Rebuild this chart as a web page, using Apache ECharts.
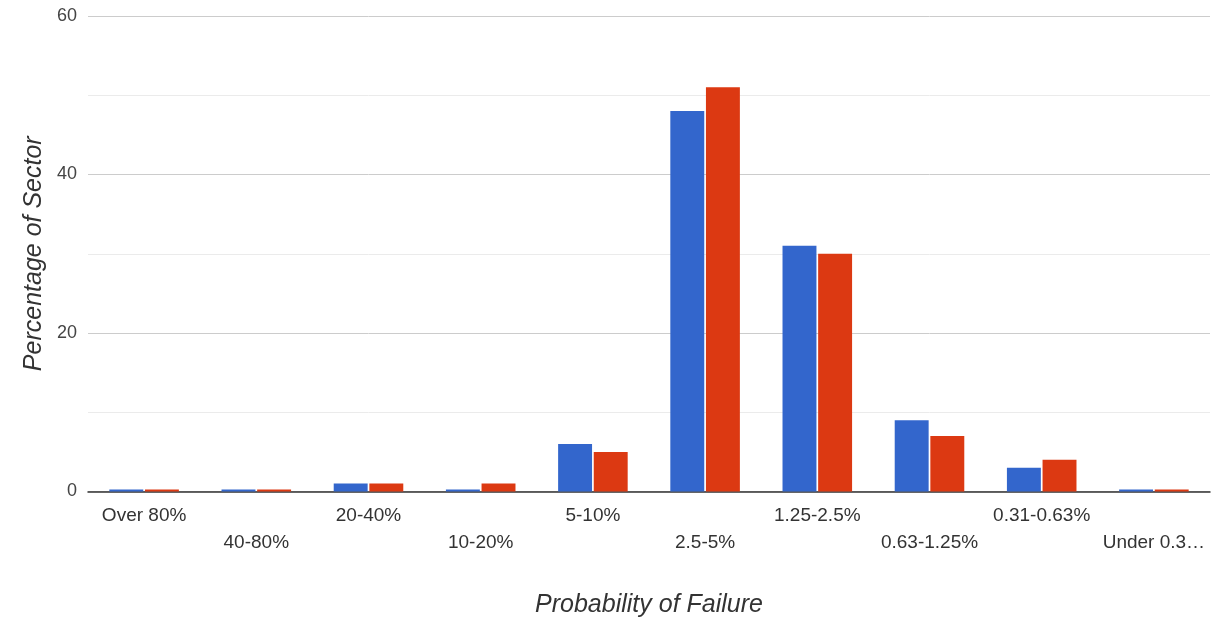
<!DOCTYPE html>
<html>
<head>
<meta charset="utf-8">
<script src="https://cdn.jsdelivr.net/npm/echarts@6/dist/echarts.min.js"></script>
<style>
html,body{margin:0;padding:0;background:#fff;}
#chart{width:1216px;height:623px;}
</style>
</head>
<body>
<div id="chart"></div>
<script>
var categories = ['Over 80%', '40-80%', '20-40%', '10-20%', '5-10%', '2.5-5%', '1.25-2.5%', '0.63-1.25%', '0.31-0.63%', 'Under 0.3\u2026'];
var seriesA = [0, 0, 1, 0, 6, 48, 31, 9, 3, 0];
var seriesB = [0, 0, 1, 1, 5, 51, 30, 7, 4, 0];
var yTicks = [0, 20, 40, 60];

var chart = echarts.init(document.getElementById('chart'), null, {renderer: 'canvas', width: 1216, height: 623});
var font = '"Liberation Sans", Arial, sans-serif';
chart.setOption({
  animation: false,
  grid: {left: 88, right: 6, top: 16, bottom: 129, containLabel: false},
  xAxis: {
    type: 'category',
    data: categories,
    name: 'Probability of Failure',
    nameLocation: 'middle',
    nameGap: 114,
    nameTextStyle: {fontFamily: font, fontSize: 25, fontStyle: 'italic', color: '#333', verticalAlign: 'middle'},
    axisLine: {lineStyle: {color: '#333', width: 1.5}},
    axisTick: {show: false},
    axisLabel: {
      interval: 0,
      fontFamily: font,
      fontSize: 19,
      color: '#333',
      margin: 11,
      lineHeight: 27,
      formatter: function (v, i) { return i % 2 === 1 ? '\n' + v : v; }
    }
  },
  yAxis: {
    type: 'value',
    min: 0,
    max: 60,
    interval: 10,
    name: 'Percentage of Sector',
    nameLocation: 'middle',
    nameGap: 54,
    nameTextStyle: {fontFamily: font, fontSize: 25, fontStyle: 'italic', color: '#333', verticalAlign: 'middle'},
    axisLine: {show: false},
    axisTick: {show: false},
    axisLabel: {
      fontFamily: font,
      fontSize: 18,
      color: '#444',
      margin: 11,
      formatter: function (v) { return yTicks.indexOf(v) >= 0 ? String(v) : ''; }
    },
    splitLine: {lineStyle: {color: ['#cccccc', '#ebebeb'], width: 1}}
  },
  series: [
    {
      type: 'bar',
      data: seriesA,
      itemStyle: {color: '#3366cc'},
      barGap: '5%',
      barCategoryGap: '38%',
      barMinHeight: 2
    },
    {
      type: 'bar',
      data: seriesB,
      itemStyle: {color: '#dc3912'},
      barMinHeight: 2
    }
  ]
});
</script>
</body>
</html>
